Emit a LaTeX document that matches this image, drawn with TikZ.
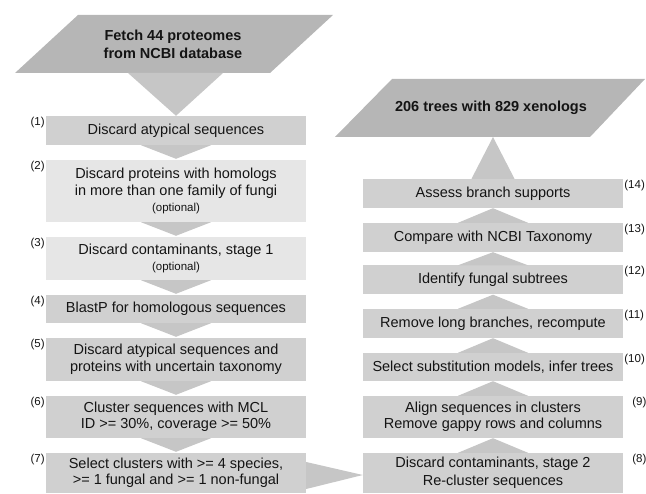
\documentclass[tikz,border=0pt]{standalone}
\usepackage{fontspec}
\setmainfont{Liberation Sans}
\usetikzlibrary{calc}
\definecolor{boxgray}{HTML}{D0D0D0}
\definecolor{lightbox}{HTML}{E6E6E6}
\definecolor{paragray}{HTML}{B6B6B6}
\definecolor{trigray}{HTML}{C6C6C6}
\definecolor{txt}{HTML}{141414}
\newcommand\optfont{\fontsize{11.5}{13}\selectfont}
\begin{document}
\begin{tikzpicture}[x=1pt,y=-1pt,
  stepbox/.style={fill=boxgray, minimum width=260pt, inner sep=0pt, align=center,
    font=\fontsize{14.5}{16.5}\selectfont, text=txt},
  lightstep/.style={stepbox, fill=lightbox},
  tri/.style={fill=trigray},
  para/.style={fill=paragray},
  title/.style={font=\bfseries\fontsize{14.5}{18}\selectfont, align=center, text=txt, inner sep=0pt},
  numl/.style={font=\fontsize{11.5}{12}\selectfont, inner sep=1pt, text=txt, anchor=north east},
  numr/.style={font=\fontsize{11.5}{12}\selectfont, inner sep=1pt, text=txt, anchor=north west}]
\useasboundingbox (0,0) rectangle (646,494);

% top-left source parallelogram
\fill[para] (15,73) -- (270,73) -- (333,15) -- (78,15) -- cycle;
\node[title] (src) at (173,44) {Fetch 44 proteomes\\from NCBI database};
\coordinate (srcb) at (175.5,73);

% top-right result parallelogram
\fill[para] (335,137) -- (590,137) -- (645,79) -- (392,79) -- cycle;
\node[title] (res) at (491,108) {206 trees with 829 xenologs};
\coordinate (resb) at (493,137);

% left column
\node[stepbox, minimum height=29pt] (b1) at (176,130.5) {Discard atypical sequences};
\node[lightstep, minimum height=62pt] (b2) at (176,191) {Discard proteins with homologs\\in more than one family of fungi\\{\optfont (optional)}};
\node[lightstep, minimum height=43pt] (b3) at (176,258.5) {Discard contaminants, stage 1\\{\optfont (optional)}};
\node[stepbox, minimum height=28pt] (b4) at (176,309) {BlastP for homologous sequences};
\node[stepbox, minimum height=43pt] (b5) at (176,359.5) {Discard atypical sequences and\\proteins with uncertain taxonomy};
\node[stepbox, minimum height=42pt] (b6) at (176,417) {Cluster sequences with MCL\\ID >= 30\%, coverage >= 50\%};
\node[stepbox, minimum height=40pt] (b7) at (176,473) {Select clusters with >= 4 species,\\>= 1 fungal and >= 1 non-fungal};

% right column
\node[stepbox, minimum height=40pt] (b8) at (493,473) {Discard contaminants, stage 2\\[2pt]Re-cluster sequences};
\node[stepbox, minimum height=42pt] (b9) at (493,417) {Align sequences in clusters\\Remove gappy rows and columns};
\node[stepbox, minimum height=28pt] (b10) at (493,367) {Select substitution models, infer trees};
\node[stepbox, minimum height=29pt] (b11) at (493,323.5) {Remove long branches, recompute};
\node[stepbox, minimum height=29pt] (b12) at (493,280) {Identify fungal subtrees};
\node[stepbox, minimum height=29pt] (b13) at (493,237.5) {Compare with NCBI Taxonomy};
\node[stepbox, minimum height=29pt] (b14) at (493,193.5) {Assess branch supports};

% step numbers
\node[numl] (n1) at (b1.north west) {(1)};
\node[numl] (n2) at (b2.north west) {(2)};
\node[numl] (n3) at (b3.north west) {(3)};
\node[numl] (n4) at (b4.north west) {(4)};
\node[numl] (n5) at (b5.north west) {(5)};
\node[numl] (n6) at (b6.north west) {(6)};
\node[numl] (n7) at (b7.north west) {(7)};
\node[numr] (n8) at ($(b8.north east)+(8,0)$) {(8)};
\node[numr] (n9) at ($(b9.north east)+(8,0)$) {(9)};
\node[numr] (n10) at (b10.north east) {(10)};
\node[numr] (n11) at (b11.north east) {(11)};
\node[numr] (n12) at (b12.north east) {(12)};
\node[numr] (n13) at (b13.north east) {(13)};
\node[numr] (n14) at (b14.north east) {(14)};

% connectors (triangles)
\fill[tri] ($(srcb)+(-47.5,0)$) -- ($(srcb)+(47.5,0)$) -- (b1.north) -- cycle;
\foreach \a/\b in {b1/b2,b2/b3,b3/b4,b4/b5,b5/b6,b6/b7}
  \fill[tri] ($(\a.south)+(-35,0)$) -- ($(\a.south)+(35,0)$) -- ($(\b.north)+(0,-1)$) -- cycle;
\foreach \a/\b in {b8/b9,b9/b10,b10/b11,b11/b12,b12/b13,b13/b14}
  \fill[tri] ($(\a.north)+(-35,0)$) -- ($(\a.north)+(35,0)$) -- (\b.south) -- cycle;
\fill[tri] ($(b14.north)+(-21.5,0)$) -- ($(b14.north)+(21.5,0)$) -- (resb) -- cycle;
\fill[tri] ($(b7.east)+(0,-11)$) -- ($(b7.east)+(0,16)$) -- ($(b8.west)+(0,2)$) -- cycle;
\end{tikzpicture}
\end{document}
